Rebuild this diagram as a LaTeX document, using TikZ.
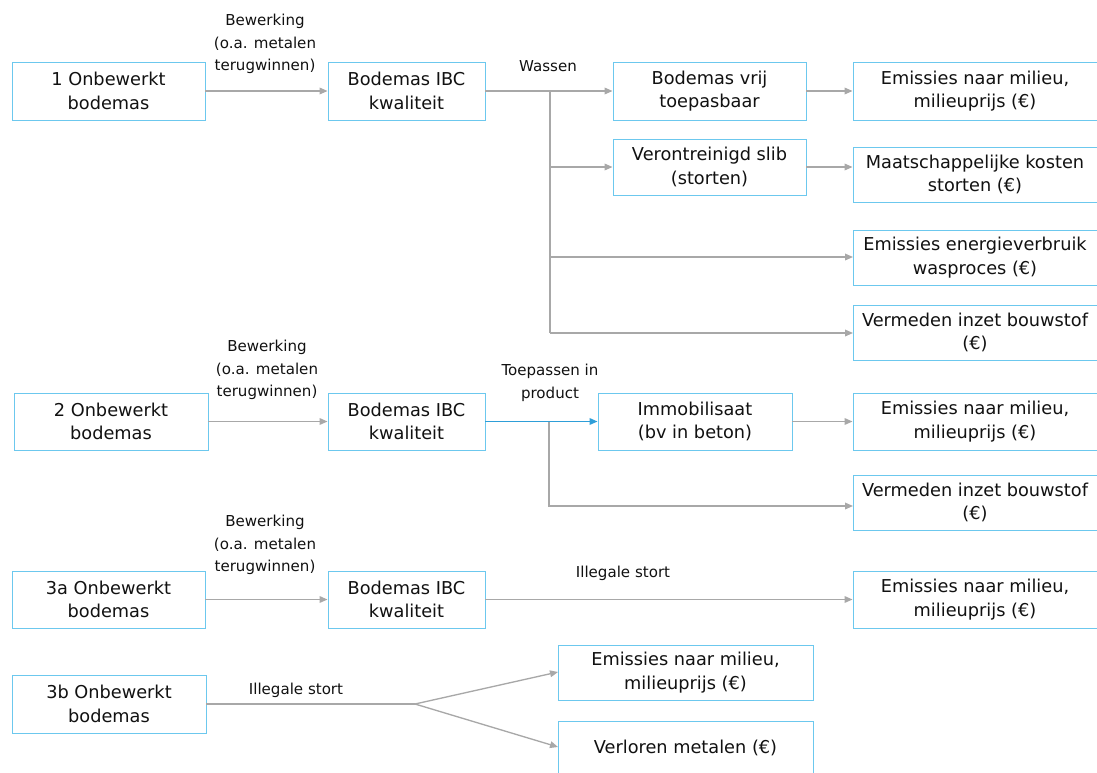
\documentclass[tikz,border=0pt]{standalone}
\usepackage{fontspec}
\setmainfont{DejaVu Sans}
\usetikzlibrary{arrows.meta,calc}
\definecolor{bx}{HTML}{6CC8EE}
\definecolor{ln}{HTML}{A8A8A8}
\definecolor{bl}{HTML}{2E9ED8}
\definecolor{tx}{HTML}{111111}
\newcommand\bx[6]{%
  \pgfmathsetmacro\bw{(#4-#2)*0.75}%
  \pgfmathsetmacro\bh{(#5-#3)*0.75}%
  \node[box, minimum width=\bw pt, minimum height=\bh pt] (#1) at ({(#2+#4)/2},{(#3+#5)/2}) {#6};}
\newcommand\rb[4]{%
  \pgfmathsetmacro\bh{(#3-#2)*0.75}%
  \node[box, minimum width=185.25pt, minimum height=\bh pt] (#1) at (976.5,{(#2+#3)/2}) {};
  \node[boxtext] at (975,{(#2+#3)/2}) {#4};}
\tikzset{
  box/.style={draw=bx, line width=0.7pt, fill=white, text=tx, align=center, inner sep=0pt,
    font=\fontsize{13.3}{17.5}\selectfont},
  boxtext/.style={text=tx, align=center, inner sep=0pt, font=\fontsize{13.3}{17.5}\selectfont},
  lab/.style={text=tx, align=center, inner sep=0pt, font=\fontsize{11.3}{16.8}\selectfont},
  arr/.style={draw=ln, line width=1pt, -{Triangle[length=6pt,width=5pt]}},
  plain/.style={draw=ln, line width=1pt},
  barr/.style={draw=bl, line width=1pt, -{Triangle[length=6pt,width=5pt]}},
}
\begin{document}
\begin{tikzpicture}[x=0.75pt,y=-0.75pt]
\useasboundingbox (0,0) rectangle (1097,772);
% Row 1
\bx{a1}{12}{62}{205}{120}{1 Onbewerkt\\bodemas}
\bx{b1}{328}{62}{485}{120}{Bodemas IBC\\kwaliteit}
\bx{c1}{613}{62}{806}{120}{Bodemas vrij\\toepasbaar}
\bx{d1}{613}{139}{806}{195}{Verontreinigd slib\\(storten)}
\rb{e1}{62}{120}{Emissies naar milieu,\\milieuprijs (€)}
\rb{f1}{147}{202}{Maatschappelijke kosten\\storten (€)}
\rb{g1}{230}{285}{Emissies energieverbruik\\wasproces (€)}
\rb{h1}{305}{360}{Vermeden inzet bouwstof\\(€)}
\node[lab] (l1) at (265,44) {Bewerking\\(o.a. metalen\\terugwinnen)};
\node[lab] (w1) at (548,66) {Wassen};
\draw[arr] (a1.east) -- (b1.west);
\draw[arr] (b1.east) -- (c1.west);
\coordinate (k1) at (550,91);
\coordinate (m1) at (853,257);
\coordinate (n1) at (853,333);
\draw[plain] (k1) -- (550,333);
\draw[arr] (k1 |- d1.west) -- (d1.west);
\draw[arr] (k1 |- m1) -- (m1);
\draw[arr] (k1 |- n1) -- (n1);
\draw[arr] (c1.east) -- (c1.east -| e1.west);
\draw[arr] (d1.east) -- (d1.east -| f1.west);
% Row 2
\bx{a2}{14}{393}{208}{450}{2 Onbewerkt\\bodemas}
\bx{b2}{328}{393}{485}{450}{Bodemas IBC\\kwaliteit}
\bx{c2}{598}{393}{792}{450}{Immobilisaat\\(bv in beton)}
\rb{e2}{393}{450}{Emissies naar milieu,\\milieuprijs (€)}
\rb{h2}{475}{530}{Vermeden inzet bouwstof\\(€)}
\node[lab] (l2) at (267,370) {Bewerking\\(o.a. metalen\\terugwinnen)};
\node[lab] (t2) at (550,383) {Toepassen in\\product};
\draw[arr] (a2.east) -- (b2.west);
\coordinate (k2) at (549,421.5);
\coordinate (m2) at (853,506);
\draw[arr] (k2) |- (m2);
\draw[barr] (b2.east) -- (c2.west);
\draw[arr] (c2.east) -- (c2.east -| e2.west);
% Row 3
\bx{a3}{12}{571}{205}{628}{3a Onbewerkt\\bodemas}
\bx{b3}{328}{571}{485}{628}{Bodemas IBC\\kwaliteit}
\rb{e3}{571}{628}{Emissies naar milieu,\\milieuprijs (€)}
\node[lab] (l3) at (265,545) {Bewerking\\(o.a. metalen\\terugwinnen)};
\node[lab] (s3) at (623,573) {Illegale stort};
\draw[arr] (a3.east) -- (b3.west);
\draw[arr] (b3.east) -- (b3.east -| e3.west);
% Row 4
\bx{a4}{12}{675}{206}{733}{3b Onbewerkt\\bodemas}
\bx{e4}{558}{645}{813}{700}{Emissies naar milieu,\\milieuprijs (€)}
\node[box, minimum width=191.25pt, minimum height=40.5pt, anchor=north west] (v4) at (558,721) {};
\node[boxtext] (vt) at (685.5,748) {Verloren metalen (€)};
\node[lab] (s4) at (296,690) {Illegale stort};
\coordinate (k4) at (415,704);
\draw[plain] (a4.east) -- (k4);
\draw[arr] (k4) -- (558,672);
\draw[arr] (k4) -- (558,747);
\end{tikzpicture}
\end{document}
